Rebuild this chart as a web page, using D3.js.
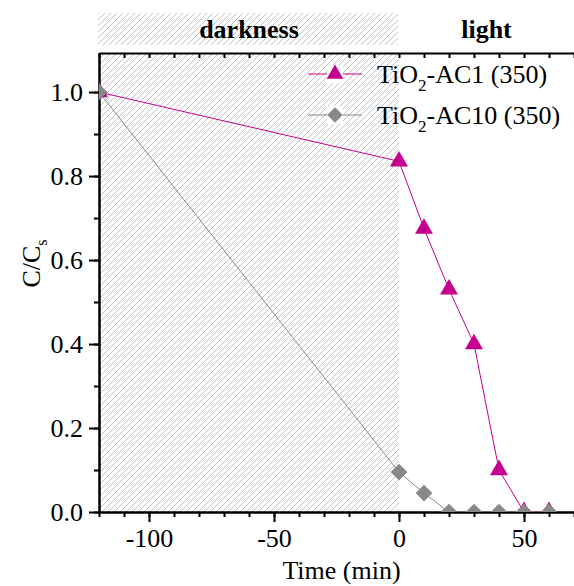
<!DOCTYPE html>
<html>
<head>
<meta charset="utf-8">
<script src="https://cdn.jsdelivr.net/npm/d3@7"></script>
<style>
  body { margin: 0; background: #fff; }
  svg text { font-family: "Liberation Serif", "Times New Roman", serif; }
</style>
</head>
<body>
<svg id="chart" width="574" height="586"></svg>
<script>
var times = [-120, 0, 10, 20, 30, 40, 50, 60];
var ac1 = [1.0, 0.835, 0.675, 0.53, 0.40, 0.10, 0.0, 0.0];
var ac10 = [1.0, 0.095, 0.045, 0.0, 0.0, 0.0, 0.0, 0.0];
var xTicks = [-100, -50, 0, 50];
var yTicks = [0.0, 0.2, 0.4, 0.6, 0.8, 1.0];
var phases = [{ name: "darkness", from: -120, to: 0 }, { name: "light", from: 0, to: 70 }];

var svg = d3.select("#chart");
var margin = { top: 53, right: 0, bottom: 74, left: 99 },
    width = 574 - margin.left - margin.right,
    height = 586 - margin.top - margin.bottom;

var x = d3.scaleLinear().domain([-120, 70]).range([0, width]),
    y = d3.scaleLinear().domain([0, 1.093]).range([height, 0]);

var defs = svg.append("defs");
defs.append("pattern")
    .attr("id", "hatch")
    .attr("patternUnits", "userSpaceOnUse")
    .attr("width", 6).attr("height", 6)
  .append("path")
    .attr("d", "M-1,1 l2,-2 M0,6 l6,-6 M5,7 l2,-2")
    .attr("stroke", "#c2c2c2")
    .attr("stroke-width", 1);
defs.append("clipPath").attr("id", "clip")
  .append("rect").attr("width", width).attr("height", height);

var g = svg.append("g")
    .attr("transform", "translate(" + margin.left + "," + margin.top + ")");

// shaded darkness region in plot
g.append("rect")
    .attr("x", x(-120)).attr("y", 0)
    .attr("width", x(0) - x(-120)).attr("height", height)
    .attr("fill", "url(#hatch)");

// phase band on top
var band = g.append("g").attr("transform", "translate(0,-40)");
band.append("rect")
    .attr("x", x(phases[0].from) - 1).attr("y", 0)
    .attr("width", x(phases[0].to) - x(phases[0].from)).attr("height", 32)
    .attr("fill", "url(#hatch)");
band.selectAll(".phase")
  .data(phases)
  .enter().append("text")
    .attr("class", "phase")
    .attr("x", function(d) { return (x(d.from) + x(d.to)) / 2; })
    .attr("y", 25)
    .attr("text-anchor", "middle")
    .style("font-size", "26px")
    .style("font-weight", "bold")
    .text(function(d) { return d.name; });

// axes
g.append("g")
    .attr("transform", "translate(0," + height + ")")
    .call(d3.axisBottom(x).tickValues(d3.range(-120, 71, 10)).tickSize(5).tickSizeOuter(0).tickFormat(""));
g.append("g")
    .attr("class", "axis axis--x")
    .attr("transform", "translate(0," + height + ")")
    .call(d3.axisBottom(x).tickValues(xTicks).tickSize(10).tickSizeOuter(0).tickPadding(7)
      .tickFormat(function(d) { return String(d); }))
    .selectAll("text").style("font-size", "26px");
g.append("g")
    .call(d3.axisTop(x).tickValues(d3.range(-120, 71, 10)).tickSize(-5).tickSizeOuter(0).tickFormat(""));
g.append("g")
    .call(d3.axisLeft(y).tickValues(d3.range(0, 1.05, 0.1)).tickSize(5).tickSizeOuter(0).tickFormat(""));
g.append("g")
    .attr("class", "axis axis--y")
    .call(d3.axisLeft(y).tickValues(yTicks).tickSize(10).tickSizeOuter(0).tickPadding(6).tickFormat(d3.format(".1f")))
    .selectAll("text").style("font-size", "26px");
g.selectAll(".domain, .tick line").attr("stroke", "#000").attr("stroke-width", 2);

// axis titles
g.append("text")
    .attr("x", x(-23)).attr("y", height + 67)
    .attr("text-anchor", "middle")
    .style("font-size", "26px")
    .text("Time (min)");
var yl = g.append("text")
    .attr("transform", "translate(-59," + (height / 2 - 19) + ") rotate(-90)")
    .attr("text-anchor", "middle")
    .style("font-size", "26px");
yl.append("tspan").text("C/C");
yl.append("tspan").attr("dy", 7).style("font-size", "16px").text("s");

// series
var diamond = {
  draw: function(ctx, size) {
    var r = Math.sqrt(size / 2);
    ctx.moveTo(0, -r); ctx.lineTo(r, 0); ctx.lineTo(0, r); ctx.lineTo(-r, 0); ctx.closePath();
  }
};
var series = [
  { name: "AC1", values: ac1, color: "#c4008c", shape: d3.symbolTriangle, size: 140 },
  { name: "AC10", values: ac10, color: "#888888", shape: diamond, size: 140 }
];
var line = d3.line()
    .x(function(d) { return x(d[0]); })
    .y(function(d) { return y(d[1]); });
var plot = g.append("g").attr("clip-path", "url(#clip)");
series.forEach(function(s) {
  var pts = times.map(function(t, i) { return [t, s.values[i]]; });
  plot.append("path")
      .datum(pts)
      .attr("fill", "none")
      .attr("stroke", s.color)
      .attr("stroke-width", 1)
      .attr("d", line);
});
series.forEach(function(s) {
  var pts = times.map(function(t, i) { return [t, s.values[i]]; });
  plot.selectAll(".m-" + s.name)
    .data(pts)
    .enter().append("path")
      .attr("class", "m-" + s.name)
      .attr("transform", function(d) { return "translate(" + x(d[0]) + "," + y(d[1]) + ")"; })
      .attr("d", d3.symbol().type(s.shape).size(s.size))
      .attr("fill", s.color);
});

// legend
var legend = g.selectAll(".legend")
  .data(series)
  .enter().append("g")
    .attr("class", "legend")
    .attr("transform", function(d, i) { return "translate(209," + (21 + i * 41) + ")"; });
legend.append("line")
    .attr("x1", 0).attr("x2", 54)
    .attr("stroke", function(d) { return d.color; })
    .attr("stroke-width", 1);
legend.append("rect")
    .attr("x", 19).attr("y", -9).attr("width", 16).attr("height", 18)
    .attr("fill", "#fff");
legend.append("path")
    .attr("transform", "translate(27,0)")
    .attr("d", function(d) { return d3.symbol().type(d.shape).size(d.size * 0.85)(); })
    .attr("fill", function(d) { return d.color; });
var lt = legend.append("text")
    .attr("x", 69).attr("y", 9)
    .style("font-size", "26px");
lt.append("tspan").text("TiO");
lt.append("tspan").attr("dy", 8).style("font-size", "17px").text("2");
lt.append("tspan").attr("dy", -8).text(function(d) { return "-" + d.name + " (350)"; });
</script>
</body>
</html>
